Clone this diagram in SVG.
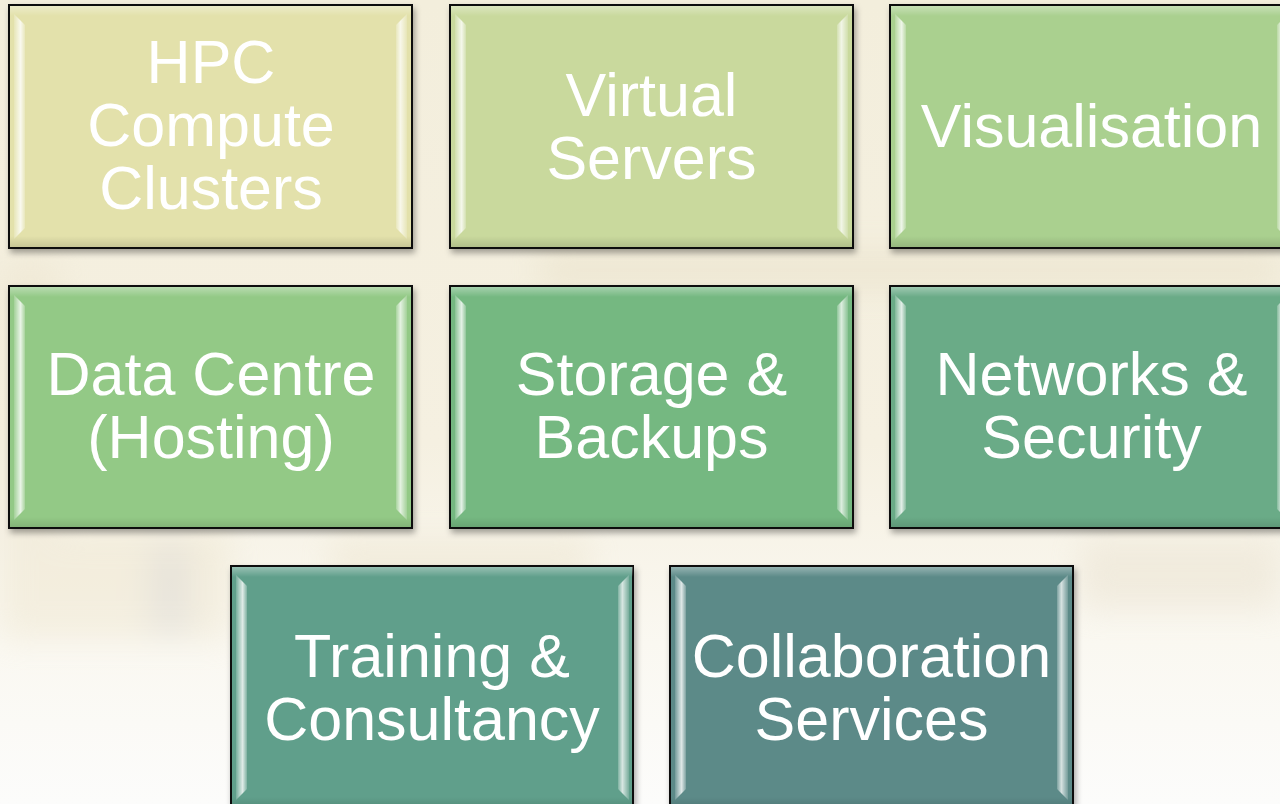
<svg xmlns="http://www.w3.org/2000/svg" width="1280" height="804" viewBox="0 0 1280 804">
<style>
.box{stroke:#111;stroke-width:2}
.lbl{font-family:"Liberation Sans",Arial,sans-serif;font-size:61px;fill:#fff;text-anchor:middle}
.hl{fill:url(#hlL)}
.hr{fill:url(#hlR)}
.top{fill:url(#topG)}
.bot{fill:url(#botG)}
</style>
<defs>
<linearGradient id="bg" x1="0" y1="0" x2="0" y2="1">
<stop offset="0" stop-color="#f3eedc"/>
<stop offset="0.55" stop-color="#f5f0e1"/>
<stop offset="0.8" stop-color="#faf8f1"/>
<stop offset="1" stop-color="#fcfcfb"/>
</linearGradient>
<linearGradient id="hlL" x1="0" y1="0" x2="1" y2="0">
<stop offset="0" stop-color="#ffffff" stop-opacity="0.15"/>
<stop offset="0.6" stop-color="#ffffff" stop-opacity="0.8"/>
<stop offset="1" stop-color="#ffffff" stop-opacity="0.2"/>
</linearGradient>
<linearGradient id="hlR" x1="1" y1="0" x2="0" y2="0">
<stop offset="0" stop-color="#ffffff" stop-opacity="0.15"/>
<stop offset="0.6" stop-color="#ffffff" stop-opacity="0.75"/>
<stop offset="1" stop-color="#ffffff" stop-opacity="0.2"/>
</linearGradient>
<linearGradient id="topG" x1="0" y1="0" x2="0" y2="1">
<stop offset="0" stop-color="#ffffff" stop-opacity="0.35"/>
<stop offset="1" stop-color="#ffffff" stop-opacity="0"/>
</linearGradient>
<linearGradient id="botG" x1="0" y1="1" x2="0" y2="0">
<stop offset="0" stop-color="#000000" stop-opacity="0.12"/>
<stop offset="1" stop-color="#000000" stop-opacity="0"/>
</linearGradient>
<filter id="sh" x="-5%" y="-5%" width="112%" height="115%">
<feDropShadow dx="2" dy="4" stdDeviation="3" flood-color="#000" flood-opacity="0.35"/>
</filter>
<filter id="blur" x="-20%" y="-20%" width="140%" height="140%">
<feGaussianBlur stdDeviation="16"/>
</filter>
<g id="bevel">
<rect class="top" x="1" y="1" width="401" height="10"/>
<rect class="bot" x="1" y="231" width="401" height="11"/>
<polygon class="hl" points="5,9 16,20 16,223 5,234"/>
<polygon class="hr" points="398,9 387,20 387,223 398,234"/>
</g>
</defs>

<rect width="1280" height="804" fill="url(#bg)"/>
<g filter="url(#blur)" opacity="0.35">
<rect x="540" y="250" width="740" height="40" fill="#e2d9be"/>
<rect x="0" y="530" width="230" height="110" fill="#eae0c4"/>
<rect x="150" y="545" width="40" height="90" fill="#c9c4bc"/>
<rect x="330" y="540" width="260" height="40" fill="#e6dcc0"/>
<rect x="1080" y="540" width="200" height="70" fill="#e3d9c4"/>
<rect x="0" y="260" width="60" height="300" fill="#e9e0c8"/>
</g>

<g id="connectors"></g>

<g id="n1" transform="translate(9,5)">
<rect class="box" x="0" y="0" width="403" height="243" fill="#e3e1ab" filter="url(#sh)"/>
<use href="#bevel"/>
<text class="lbl" x="202" y="78">HPC</text>
<text class="lbl" x="202" y="141">Compute</text>
<text class="lbl" x="202" y="204">Clusters</text>
</g>

<g id="n2" transform="translate(450,5)">
<rect class="box" x="0" y="0" width="403" height="243" fill="#c9d99d" filter="url(#sh)"/>
<use href="#bevel"/>
<text class="lbl" x="201.5" y="111">Virtual</text>
<text class="lbl" x="201.5" y="174">Servers</text>
</g>

<g id="n3" transform="translate(890,5)">
<rect class="box" x="0" y="0" width="403" height="243" fill="#aad08f" filter="url(#sh)"/>
<use href="#bevel"/>
<text class="lbl" x="201.5" y="142">Visualisation</text>
</g>

<g id="n4" transform="translate(9,286)">
<rect class="box" x="0" y="0" width="403" height="242" fill="#93c986" filter="url(#sh)"/>
<use href="#bevel"/>
<text class="lbl" x="202" y="109">Data Centre</text>
<text class="lbl" x="202" y="172">(Hosting)</text>
</g>

<g id="n5" transform="translate(450,286)">
<rect class="box" x="0" y="0" width="403" height="242" fill="#75b881" filter="url(#sh)"/>
<use href="#bevel"/>
<text class="lbl" x="201.5" y="109">Storage &amp;</text>
<text class="lbl" x="201.5" y="172">Backups</text>
</g>

<g id="n6" transform="translate(890,286)">
<rect class="box" x="0" y="0" width="403" height="242" fill="#6bab87" filter="url(#sh)"/>
<use href="#bevel"/>
<text class="lbl" x="201.5" y="109">Networks &amp;</text>
<text class="lbl" x="201.5" y="172">Security</text>
</g>

<g id="n7" transform="translate(231,566)">
<rect class="box" x="0" y="0" width="402" height="243" fill="#609f8b" filter="url(#sh)"/>
<use href="#bevel"/>
<text class="lbl" x="201" y="111">Training &amp;</text>
<text class="lbl" x="201" y="174">Consultancy</text>
</g>

<g id="n8" transform="translate(670,566)">
<rect class="box" x="0" y="0" width="403" height="243" fill="#5b8a88" filter="url(#sh)"/>
<use href="#bevel"/>
<text class="lbl" x="201.5" y="111">Collaboration</text>
<text class="lbl" x="201.5" y="174">Services</text>
</g>
</svg>
